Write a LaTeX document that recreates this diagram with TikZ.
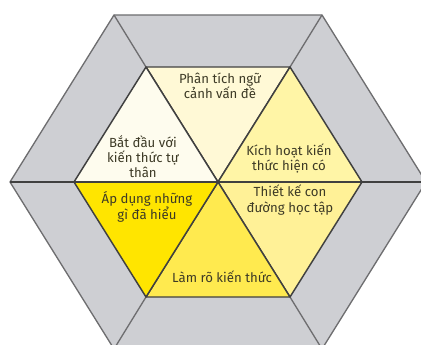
\documentclass[tikz,border=0pt]{standalone}
\usepackage{fontspec}
\setmainfont{Fira Sans}

\definecolor{bandgray}{RGB}{206,207,211}
\definecolor{edgegray}{RGB}{110,110,112}
\definecolor{txtdark}{RGB}{61,58,38}
\definecolor{creamA}{RGB}{254,252,238}
\definecolor{creamB}{RGB}{255,249,214}
\definecolor{yellowA}{RGB}{255,245,166}
\definecolor{yellowB}{RGB}{255,241,151}
\definecolor{yellowC}{RGB}{255,234,79}
\definecolor{yellowD}{RGB}{255,229,0}

\tikzset{every picture/.style={line width=0.75pt}}
\tikzset{
  band/.style={draw=edgegray, line width=1, line join=round},
  wedge/.style={draw=black!75, line width=1.1, line join=round},
  label/.style={text=txtdark, align=center, font=\fontsize{9.9}{11.3}\selectfont, inner sep=0pt}
}

\begin{document}
\begin{tikzpicture}[x=0.75pt,y=0.75pt,yscale=-1,xscale=1]
\useasboundingbox (0,0) rectangle (421,345);
\clip (0,0) rectangle (421,345);

%Centre and inner hexagon
\coordinate (o) at (218,182);
\coordinate (iL) at (74,182);
\coordinate (iTL) at (146,67);
\coordinate (iTR) at (290,67);
\coordinate (iR) at (362,182);
\coordinate (iBR) at (290,297);
\coordinate (iBL) at (146,297);
%Outer hexagon
\coordinate (oL) at (10,182);
\coordinate (oTL) at (114,15);
\coordinate (oTR) at (322,15);
\coordinate (oR) at (426,182);
\coordinate (oBR) at (322,349);
\coordinate (oBL) at (114,349);

%Shape: Outer band
\fill [bandgray] (oL) -- (oTL) -- (oTR) -- (oR) -- (oBR) -- (oBL) -- cycle ;
\draw [band] (oL) -- (oTL) -- (oTR) -- (oR) -- (oBR) -- (oBL) -- cycle ;
%Straight Lines
\draw [band] (iL) -- (oL) ;
\draw [band] (iTL) -- (oTL) ;
\draw [band] (iTR) -- (oTR) ;
\draw [band] (iR) -- (oR) ;
\draw [band] (iBR) -- (oBR) ;
\draw [band] (iBL) -- (oBL) ;

%Shape: Triangles
\draw [wedge, fill=creamB] (o) -- (iTL) -- (iTR) -- cycle ;
\draw [wedge, fill=creamA] (o) -- (iL) -- (iTL) -- cycle ;
\draw [wedge, fill=yellowA] (o) -- (iTR) -- (iR) -- cycle ;
\draw [wedge, fill=yellowB] (o) -- (iR) -- (iBR) -- cycle ;
\draw [wedge, fill=yellowC] (o) -- (iBR) -- (iBL) -- cycle ;
\draw [wedge, fill=yellowD] (o) -- (iBL) -- (iL) -- cycle ;
%Straight Lines
\draw [wedge] (oL) -- (oR) ;

%Labels
\node [label] (phantich) at (220,86) {Phân tích ngữ\\cảnh vấn đề};
\node [label] (batdau) at (143,157) {Bắt đầu với\\kiến thức tự\\thân};
\node [label] (kichhoat) at (289,158) {Kích hoạt kiến\\thức hiện có};
\node [label] (thietke) at (290,200) {Thiết kế con\\đường học tập};
\node [label] (apdung) at (147,207) {Áp dụng những\\gì đã hiểu};
\node [label] (lamro) at (222,277) {Làm rõ kiến thức};

\end{tikzpicture}
\end{document}
